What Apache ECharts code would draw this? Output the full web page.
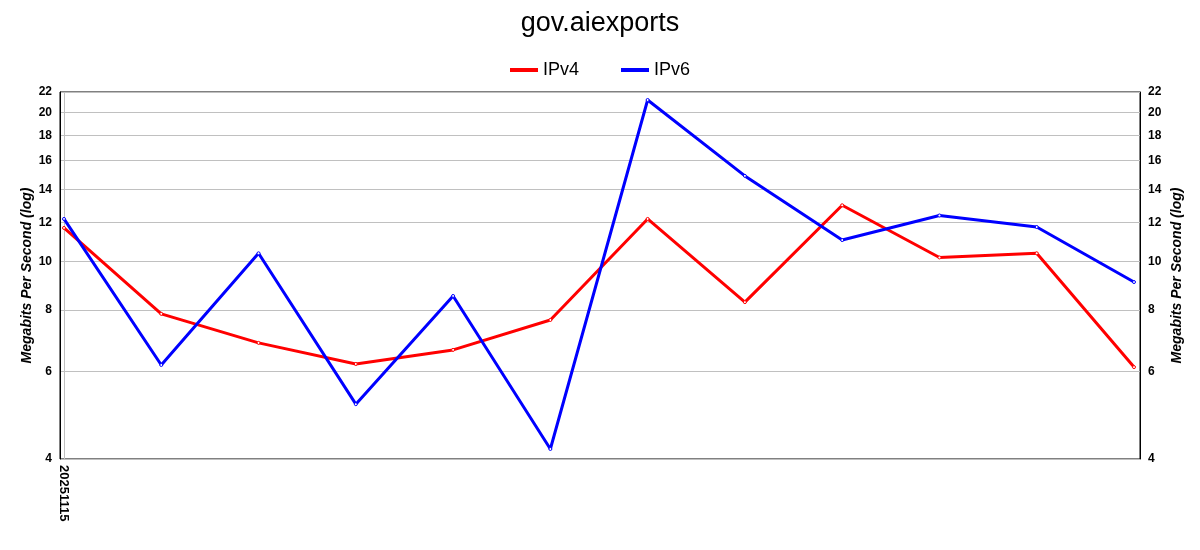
<!DOCTYPE html>
<html lang="en">
  <head>
    <meta charset="UTF-8" />
    <title>gov.aiexports</title>
    <script src="https://cdn.jsdelivr.net/npm/echarts@6/dist/echarts.min.js"></script>
    <style>
      html, body { margin: 0; padding: 0; background: #fff; }
    </style>
  </head>
  <body>
    <div id="main" style="width: 1200px; height: 550px"></div>
    <script>
      var categories = ["20251115", "", "", "", "", "", "", "", "", "", "", ""];
      var ipv4 = [11.7, 7.85, 6.86, 6.22, 6.64, 7.63, 12.2, 8.29, 13.0, 10.2, 10.4, 6.13];
      var ipv6 = [12.2, 6.19, 10.4, 5.16, 8.53, 4.19, 21.2, 14.9, 11.06, 12.4, 11.75, 9.1];
      var yTicks = [4, 6, 8, 10, 12, 14, 16, 18, 20, 22];

      var myChart = echarts.init(document.getElementById("main"));

      function yAxisFor(pos, grid, visible) {
        return {
          type: "log",
          gridIndex: grid,
          position: pos,
          min: 4,
          max: 22,
          show: visible,
          name: visible ? "Megabits Per Second (log)" : "",
          nameLocation: "middle",
          nameMoveOverlap: false,
          nameGap: pos === "left" ? 26 : 30,
          nameRotate: 90,
          nameTextStyle: {
            fontFamily: "Liberation Sans",
            fontSize: 14,
            fontWeight: "bold",
            fontStyle: "italic",
            color: "#000"
          },
          axisLine: { show: true, lineStyle: { color: "#000", width: 1 } },
          axisTick: { show: false, customValues: yTicks },
          axisLabel: {
            customValues: yTicks,
            margin: 8,
            fontFamily: "Liberation Sans",
            fontSize: 12,
            fontWeight: "bold",
            color: "#000"
          },
          splitLine: {
            show: visible && pos === "left",
            lineStyle: { color: "#c0c0c0", width: 1 }
          }
        };
      }

      var option = {
        animation: false,
        title: {
          text: "gov.aiexports",
          left: "center",
          top: 5,
          textStyle: {
            fontFamily: "Liberation Sans",
            fontSize: 27,
            fontWeight: "normal",
            color: "#000"
          }
        },
        legend: {
          top: 56,
          left: "center",
          itemWidth: 28,
          itemHeight: 4,
          itemGap: 42,
          textStyle: {
            fontFamily: "Liberation Sans",
            fontSize: 18,
            color: "#000"
          },
          data: [
            { name: "IPv4", icon: "rect", itemStyle: { color: "#ff0000", borderWidth: 0 } },
            { name: "IPv6", icon: "rect", itemStyle: { color: "#0000ff", borderWidth: 0 } }
          ]
        },
        grid: [
          { left: 60, right: 60, top: 92, bottom: 91, show: true, borderColor: "#000", borderWidth: 1 },
          { left: 64, right: 66, top: 92, bottom: 91 }
        ],
        xAxis: [
          {
            type: "category",
            gridIndex: 0,
            data: categories,
            show: false
          },
          {
            type: "category",
            gridIndex: 1,
            data: categories,
            boundaryGap: false,
            axisLine: { show: false },
            axisTick: { show: false },
            splitLine: { show: true, interval: function (i) { return i === 0; }, lineStyle: { color: "#c0c0c0" } },
            axisLabel: {
              rotate: -90,
              interval: 0,
              margin: 6,
              fontFamily: "Liberation Sans",
              fontSize: 13,
              fontWeight: "bold",
              color: "#000"
            }
          }
        ],
        yAxis: [
          yAxisFor("left", 0, true),
          yAxisFor("right", 0, true),
          yAxisFor("left", 1, false)
        ],
        series: [
          {
            name: "IPv4",
            type: "line",
            xAxisIndex: 1,
            yAxisIndex: 2,
            data: ipv4,
            symbol: "circle",
            symbolSize: 3,
            itemStyle: { color: "#ffffff", borderColor: "#ff0000", borderWidth: 1 },
            lineStyle: { color: "#ff0000", width: 3 },
            color: "#ff0000"
          },
          {
            name: "IPv6",
            type: "line",
            xAxisIndex: 1,
            yAxisIndex: 2,
            data: ipv6,
            symbol: "circle",
            symbolSize: 3,
            itemStyle: { color: "#ffffff", borderColor: "#0000ff", borderWidth: 1 },
            lineStyle: { color: "#0000ff", width: 3 },
            color: "#0000ff"
          }
        ]
      };

      myChart.setOption(option);
    </script>
  </body>
</html>
